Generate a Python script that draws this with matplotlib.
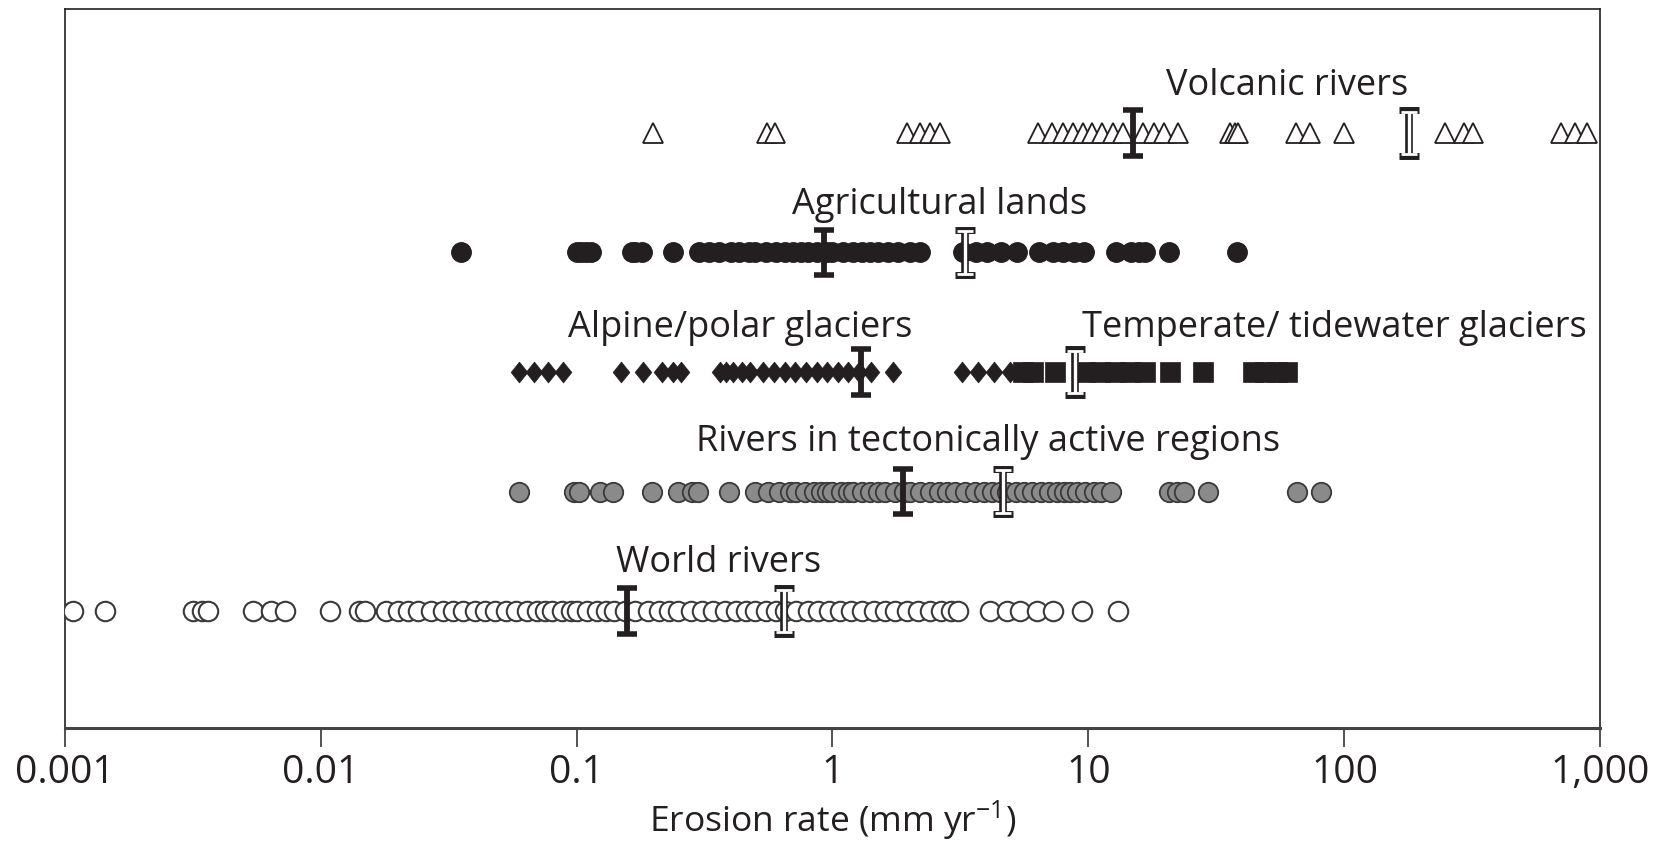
import numpy as np
import matplotlib
matplotlib.use("Agg")
import matplotlib.pyplot as plt

plt.rcParams['font.family'] = ['Open Sans', 'DejaVu Sans']
plt.rcParams['mathtext.fontset'] = 'custom'
plt.rcParams['mathtext.rm'] = 'Open Sans'
plt.rcParams['mathtext.default'] = 'regular'

INK = '#231f20'

# erosion rates (mm/yr), one list per group
volcanic = [0.199, 0.555, 0.596, 1.95, 2.20, 2.40, 2.63, 6.35, 7.20, 7.95, 8.69,
            9.51, 10.3, 11.3, 12.5, 13.6, 16.4, 18.0, 19.7, 22.3, 35.7, 37.2, 38.2,
            64.7, 73.3, 99.5, 247, 293, 317, 701, 794, 883]
agricultural = [0.0355, 0.1005, 0.104, 0.109, 0.114, 0.164, 0.170, 0.180, 0.238,
                0.30, 0.33, 0.36, 0.40, 0.43, 0.47, 0.50, 0.55, 0.60, 0.65, 0.70,
                0.75, 0.80, 0.87, 0.95, 1.0, 1.1, 1.2, 1.3, 1.4, 1.5, 1.65, 1.8,
                2.0, 2.2, 3.24, 3.63, 4.00, 4.57, 5.28, 6.39, 7.24, 7.96, 8.77,
                9.64, 12.8, 14.6, 15.7, 16.6, 20.7, 37.9]
alpine = [0.0594, 0.0680, 0.0777, 0.0888, 0.149, 0.182, 0.216, 0.238, 0.257,
          0.362, 0.384, 0.410, 0.443, 0.478, 0.537, 0.590, 0.650, 0.715, 0.787,
          0.866, 0.953, 1.048, 1.15, 1.27, 1.42, 1.72, 3.21, 3.71, 4.28, 4.93]
temperate = [5.53, 6.07, 7.39, 9.69, 11.1, 12.7, 14.5, 16.6, 20.8, 28.0,
             43.9, 48.9, 54.5, 59.6]
tectonic = [0.0594, 0.0977, 0.1026, 0.123, 0.139, 0.198, 0.249, 0.283, 0.299,
            0.395, 0.497, 0.56, 0.62, 0.68, 0.72, 0.78, 0.85, 0.90, 0.95, 1.0,
            1.08, 1.15, 1.2, 1.3, 1.4, 1.5, 1.6, 1.75, 1.9, 2.0, 2.2, 2.4, 2.6,
            2.8, 3.0, 3.3, 3.6, 3.9, 4.2, 4.5, 4.8, 5.2, 5.6, 6.0, 6.5, 7.0, 7.5,
            8.0, 8.5, 9.0, 9.7, 10.5, 11.2, 12.2, 20.7, 22.2, 23.7, 29.3, 65.3, 80.7]
world = [0.00108, 0.00144, 0.00318, 0.00344, 0.00364, 0.00544, 0.0064, 0.00724,
         0.0109, 0.0142, 0.0149, 0.018, 0.020, 0.022, 0.024, 0.027, 0.030, 0.033,
         0.036, 0.040, 0.044, 0.048, 0.053, 0.058, 0.064, 0.070, 0.075, 0.080,
         0.088, 0.095, 0.10, 0.11, 0.12, 0.13, 0.14, 0.155, 0.17, 0.19, 0.21,
         0.23, 0.25, 0.28, 0.31, 0.34, 0.38, 0.42, 0.46, 0.50, 0.55, 0.60, 0.65,
         0.72, 0.80, 0.88, 0.97, 1.07, 1.18, 1.3, 1.45, 1.6, 1.75, 1.95, 2.15,
         2.4, 2.65, 2.9, 3.1, 4.12, 4.81, 5.40, 6.29, 7.27, 9.44, 13.0]

# medians (filled I) and means (open I)
medians = {'volcanic': 14.9, 'agricultural': 0.925, 'alpine': 1.29,
           'tectonic': 1.88, 'world': 0.157}
means = {'volcanic': 178, 'agricultural': 3.30, 'temperate': 8.85,
         'tectonic': 4.62, 'world': 0.649}

rows = {'volcanic': 5, 'agricultural': 4, 'alpine': 3, 'temperate': 3,
        'tectonic': 2, 'world': 1}

tick_vals = [0.001, 0.01, 0.1, 1, 10, 100, 1000]
tick_labels = ['0.001', '0.01', '0.1', '1', '10', '100', '1,000']

fig = plt.figure(figsize=(16.67, 8.43), dpi=100)
ax = fig.add_axes([0.0387, 0.1364, 0.9214, 0.8535])

diamond = [(0, 1), (0.8, 0), (0, -1), (-0.8, 0), (0, 1)]

ax.plot(volcanic, [rows['volcanic']] * len(volcanic), linestyle='none',
        marker='^', ms=15, mfc='white', mec=INK, mew=1.3, zorder=3)
ax.plot(agricultural, [rows['agricultural']] * len(agricultural), linestyle='none',
        marker='o', ms=14, mfc=INK, mec=INK, mew=1, zorder=3)
ax.plot(alpine, [rows['alpine']] * len(alpine), linestyle='none',
        marker=diamond, ms=15, mfc=INK, mec=INK, mew=0.5, zorder=3)
ax.plot(temperate, [rows['temperate']] * len(temperate), linestyle='none',
        marker='s', ms=14, mfc=INK, mec=INK, mew=0.5, zorder=3)
ax.plot(tectonic, [rows['tectonic']] * len(tectonic), linestyle='none',
        marker='o', ms=14, mfc='#8a8a8a', mec='#3a3a3a', mew=1.3, zorder=3)
ax.plot(world, [rows['world']] * len(world), linestyle='none',
        marker='o', ms=14, mfc='white', mec='#3a3a3a', mew=1.5, zorder=3)

half = 0.19
for key, v in medians.items():
    ax.errorbar([v], [rows[key]], yerr=half, fmt='none', ecolor=INK,
                elinewidth=4.2, capsize=7.5, capthick=4, zorder=5)
for key, v in means.items():
    ax.errorbar([v], [rows[key]], yerr=half, fmt='none', ecolor=INK,
                elinewidth=5.5, capsize=7.5, capthick=5, zorder=5)
    ax.errorbar([v], [rows[key]], yerr=half - 0.012, fmt='none', ecolor='white',
                elinewidth=2.4, capsize=5.8, capthick=2.0, zorder=6)

labels = [('Volcanic rivers', 59.6, 5.395),
          ('Agricultural lands', 2.61, 4.395),
          ('Alpine/polar glaciers', 0.435, 3.365),
          ('Temperate/ tidewater glaciers', 91, 3.365),
          ('Rivers in tectonically active regions', 4.05, 2.415),
          ('World rivers', 0.36, 1.405)]
for txt, x, y in labels:
    ax.text(x, y, txt, ha='center', va='center', fontsize=26, color=INK)

ax.set_xscale('log')
ax.set_xlim(0.001, 1000)
ax.set_ylim(0.022, 6.04)
ax.set_xticks(tick_vals)
ax.set_xticklabels(tick_labels)
ax.xaxis.set_minor_locator(matplotlib.ticker.NullLocator())
ax.set_yticks([])
ax.tick_params(axis='x', direction='out', length=14, width=1.3, color='#444444',
               labelsize=28, labelcolor=INK, pad=5)
ax.set_xlabel('Erosion rate (mm yr$^{-1}$)', fontsize=25.5, color=INK, labelpad=4)

for side in ['left', 'right', 'top']:
    ax.spines[side].set_linewidth(1.2)
    ax.spines[side].set_color(INK)
ax.spines['bottom'].set_linewidth(2.2)
ax.spines['bottom'].set_color('#444444')

fig.savefig('out.png', dpi=100)
